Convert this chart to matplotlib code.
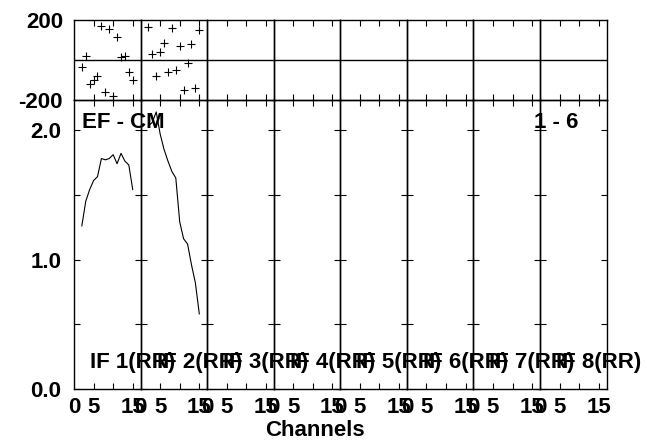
import numpy as np
import matplotlib
matplotlib.use("Agg")
import matplotlib.pyplot as plt

plt.rcParams['font.family'] = ['Liberation Sans', 'DejaVu Sans']
plt.rcParams['font.weight'] = 'bold'
plt.rcParams['font.size'] = 16

# data (channels 2..15, only IF 1 and IF 2 have data)
channels = np.arange(2, 16)
amp_if1 = [1.26, 1.45, 1.54, 1.61, 1.64, 1.78, 1.77, 1.78, 1.81, 1.74, 1.82, 1.76, 1.73, 1.54]
amp_if2 = [2.03, 2.06, 2.14, 1.97, 1.85, 1.76, 1.68, 1.63, 1.29, 1.16, 1.12, 0.96, 0.82, 0.58]
phs_if1 = [-35, 18, -122, -100, -80, 172, -158, 153, -178, 113, 13, 19, -60, -100]
phs_if2 = [167, 30, -80, 38, 87, -62, 162, -50, 70, -150, -13, 80, -138, 150]
amps = [amp_if1, amp_if2] + [None] * 6
phases = [phs_if1, phs_if2] + [None] * 6
if_labels = ['IF %d(RR)' % (i + 1) for i in range(8)]

W, H = 647, 442
fig = plt.figure(figsize=(W / 100, H / 100), dpi=100)
gs = fig.add_gridspec(2, 8, height_ratios=[80, 289], hspace=0, wspace=0,
                      left=74 / W, right=606.5 / W, top=1 - 20 / H, bottom=1 - 389 / H)

for i in range(8):
    axp = fig.add_subplot(gs[0, i])
    axa = fig.add_subplot(gs[1, i])
    for ax in (axp, axa):
        ax.set_facecolor('none')
        ax.set_xlim(0, 17)
        for s in ax.spines.values():
            s.set_linewidth(1.0)
        ax.set_xticks([5, 10, 15])
        ax.tick_params(axis='x', direction='in', top=True, bottom=True,
                       length=4, width=0.8, labelbottom=False)

    # phase panel
    axp.set_ylim(-200, 200)
    axp.axhline(0, color='black', lw=1.0)
    if phases[i] is not None:
        axp.plot(channels, phases[i], '+', color='black', ms=6, mew=0.8)
    if i == 0:
        axp.set_yticks([-200, 200])
        axp.set_yticklabels(['-200', '200'])
        axp.tick_params(axis='y', length=0, pad=8)
    else:
        axp.set_yticks([])

    # amplitude panel
    axa.set_ylim(0, 2.232)
    if amps[i] is not None:
        axa.plot(channels, amps[i], color='black', lw=0.8)
    axa.set_yticks([0, 0.5, 1.0, 1.5, 2.0])
    axa.tick_params(axis='y', direction='in', left=True, right=True,
                    length=4, width=0.8, labelleft=(i == 0), pad=9)
    if i == 0:
        axa.set_yticklabels(['0.0', '', '1.0', '', '2.0'])
    axa.set_xticks([0, 5, 10, 15])
    axa.set_xticklabels(['0', '5', '', '15'])
    axa.tick_params(axis='x', labelbottom=True, pad=6)
    axa.xaxis.get_major_ticks()[0].tick1line.set_visible(False)
    axa.xaxis.get_major_ticks()[0].tick2line.set_visible(False)
    axa.text(16 / 66.5, (389 - 368) / 289, if_labels[i],
             transform=axa.transAxes, ha='left', va='baseline', clip_on=False)

fig.text(81.7 / W, 1 - 128 / H, 'EF - CM', ha='left', va='baseline', fontsize=16)
fig.text(578 / W, 1 - 128 / H, '1 - 6', ha='right', va='baseline', fontsize=16)
fig.text(315 / W, 1 - 431 / H, 'Channels', ha='center', va='center', fontsize=16)

fig.savefig('out.png', dpi=100, facecolor='white')
